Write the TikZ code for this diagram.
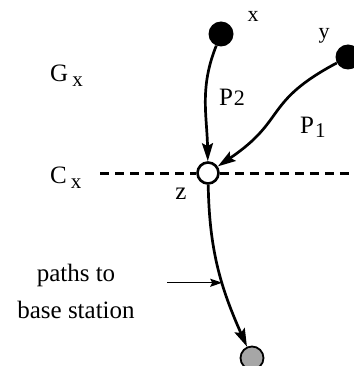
\documentclass[tikz,border=0pt]{standalone}
\usepackage{fontspec}
\setmainfont{Liberation Serif}
\usetikzlibrary{arrows.meta}
\begin{document}
\begin{tikzpicture}[x=1pt,y=-1pt,
  lbl/.style={inner sep=0pt,font=\fontsize{25}{27}\selectfont},
  sml/.style={inner sep=0pt,font=\fontsize{22}{24}\selectfont},
  dot/.style={circle,fill=black,minimum size=25pt,inner sep=0pt},
  hub/.style={circle,draw=black,fill=white,line width=2.6pt,minimum size=21pt,inner sep=0pt},
  sink/.style={circle,draw=black,fill=black!35,line width=1.8pt,minimum size=23pt,inner sep=0pt},
  arr/.style={line width=2.7pt,-{Stealth[length=18pt,width=11pt,inset=3pt]}},
  ptr/.style={line width=1.4pt,-{Stealth[length=12pt,width=8pt,inset=2pt]}},
  cut/.style={line width=3pt,dash pattern=on 9pt off 6pt}]
\useasboundingbox (0,0) rectangle (353,366);
\node[dot] (x) at (221,34) {};
\node[dot] (y) at (348,57) {};
\node[hub] (z) at (208,173) {};
\node[sink] (bs) at (252,358) {};
\coordinate (cl) at (100,173);
\coordinate (cr) at (356,173);
\draw[cut] (cl) -- (z);
\draw[cut] (z) -- (cr);
\draw[arr] (x) to[out=-112,in=91] (z);
\draw[arr] (y) to[out=208,in=34,looseness=1.35] (z);
\draw[arr] (z) to[out=-89,in=114] coordinate[pos=0.6] (m) (bs);
\coordinate (ps) at ([xshift=-55pt]m);
\draw[ptr] (ps) -- (m);
\node[sml] (xl) at (253,16) {x};
\node[sml] (yl) at (324,36) {y};
\node[lbl,anchor=base west] (gx) at (50,82) {G\kern4pt\raisebox{-5pt}{\fontsize{21}{22}\selectfont x}};
\node[lbl,anchor=base west] (cx) at (50,183) {C\kern4pt\raisebox{-5pt}{\fontsize{21}{22}\selectfont x}};
\node[lbl,anchor=base] (p2) at (232,106) {P\kern1pt{\fontsize{22}{22}\selectfont 2}};
\node[lbl,anchor=base west] (p1) at (300,134) {P\kern1pt\raisebox{-4pt}{\fontsize{21}{22}\selectfont 1}};
\node[lbl,anchor=base] (zl) at (181,199) {z};
\node[lbl,align=center,font=\fontsize{25}{37}\selectfont] (pt) at (76,291) {paths to\\base station};
\end{tikzpicture}
\end{document}
